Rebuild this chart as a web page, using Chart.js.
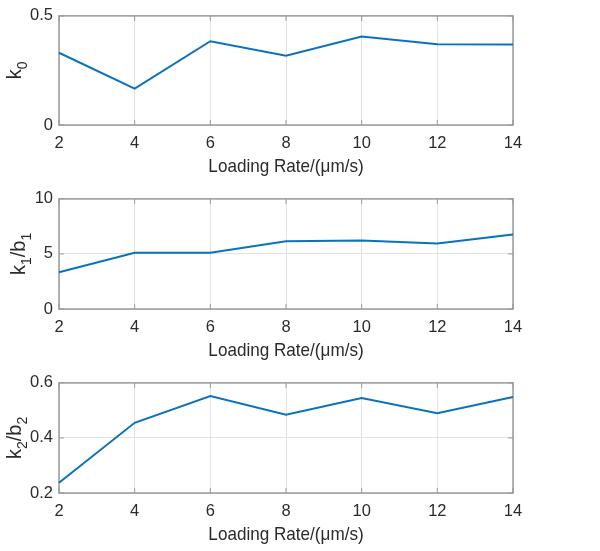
<!DOCTYPE html>
<html>
<head>
<meta charset="utf-8">
<script src="https://cdn.jsdelivr.net/npm/chart.js@4.4.1/dist/chart.umd.min.js"></script>
<style>
    body { margin: 0; background: #fff; }
    #wrap { position: relative; width: 600px; height: 551px; }
    canvas { position: absolute; left: 0; }
</style>
</head>
<body>
<div id="wrap">
    <canvas id="chart-k0" width="600" height="183" style="top:0"></canvas>
    <canvas id="chart-k1" width="600" height="184" style="top:183px"></canvas>
    <canvas id="chart-k2" width="600" height="184" style="top:367px"></canvas>
</div>
<script>
// Data
const loadingRate = [2, 4, 6, 8, 10, 12, 14];
const k0 = [0.331, 0.167, 0.384, 0.318, 0.405, 0.370, 0.369];
const k1b1 = [3.34, 5.10, 5.10, 6.16, 6.22, 5.95, 6.77];
const k2b2 = [0.237, 0.455, 0.552, 0.484, 0.545, 0.490, 0.549];

// Tick labels
const xTicks = [2, 4, 6, 8, 10, 12, 14];
const k0Ticks = [0, 0.5];
const k1Ticks = [0, 5, 10];
const k2Ticks = [0.2, 0.4, 0.6];

// Axis titles ([text, isSubscript])
const xTitle = 'Loading Rate/(μm/s)';
const k0Label = [['k', false], ['0', true]];
const k1Label = [['k', false], ['1', true], ['/b', false], ['1', true]];
const k2Label = [['k', false], ['2', true], ['/b', false], ['2', true]];

const FONT = "'Liberation Sans', Arial, Helvetica, sans-serif";
const textColor = '#2b2b2b';
const gridColor = '#e2e2e2';
const frameColor = '#9a9a9a';
const lineColor = '#0a72bd';

Chart.defaults.font.family = FONT;

// box around the plot area plus the short inward tick marks
const framePlugin = {
    id: 'frame',
    beforeDatasetsDraw(chart) {
        const { ctx, chartArea: a, scales: { x, y } } = chart;
        ctx.save();
        ctx.strokeStyle = frameColor;
        ctx.lineWidth = 1;
        ctx.beginPath();
        x.ticks.forEach(t => {
            const px = x.getPixelForValue(t.value);
            ctx.moveTo(px, a.bottom); ctx.lineTo(px, a.bottom - 5);
            ctx.moveTo(px, a.top); ctx.lineTo(px, a.top + 5);
        });
        y.ticks.forEach(t => {
            const py = y.getPixelForValue(t.value);
            ctx.moveTo(a.left, py); ctx.lineTo(a.left + 5, py);
            ctx.moveTo(a.right, py); ctx.lineTo(a.right - 5, py);
        });
        ctx.stroke();
        ctx.lineWidth = 1.5;
        ctx.strokeRect(a.left, a.top, a.right - a.left, a.bottom - a.top);
        ctx.restore();
    }
};

// axis titles: x title slightly narrowed, y title rotated with subscripts
const axisLabelPlugin = {
    id: 'axisLabel',
    afterDraw(chart, args, opts) {
        const { ctx, chartArea: a, scales: { y } } = chart;
        ctx.save();
        ctx.fillStyle = textColor;

        // x title
        ctx.save();
        ctx.font = `19px ${FONT}`;
        ctx.textAlign = 'center';
        ctx.textBaseline = 'alphabetic';
        ctx.translate((a.left + a.right) / 2, a.bottom + 47);
        ctx.scale(0.9, 1);
        ctx.fillText(xTitle, 0, 0);
        ctx.restore();

        // y title
        ctx.font = `16px ${FONT}`;
        const widest = Math.max(...y.ticks.map(t => ctx.measureText(String(t.label)).width));
        const baseX = a.left - 6 - widest - 10;
        const midY = (a.top + a.bottom) / 2;

        const fonts = opts.parts.map(p => p[1] ? `14px ${FONT}` : `20px ${FONT}`);
        const widths = opts.parts.map((p, i) => { ctx.font = fonts[i]; return ctx.measureText(p[0]).width; });
        const total = widths.reduce((s, w) => s + w, 0);

        ctx.translate(baseX, midY);
        ctx.rotate(-Math.PI / 2);
        ctx.textBaseline = 'alphabetic';
        ctx.textAlign = 'left';
        let u = -total / 2;
        opts.parts.forEach((p, i) => {
            ctx.font = fonts[i];
            ctx.fillText(p[0], u, p[1] ? 6 : 0);
            u += widths[i];
        });
        ctx.restore();
    }
};

const makeChart = (id, values, yTicks, labelParts, padTop) => {
    const ctx = document.getElementById(id).getContext('2d');
    return new Chart(ctx, {
        type: 'line',
        data: {
            labels: loadingRate,
            datasets: [{
                data: loadingRate.map((x, i) => ({ x: x, y: values[i] })),
                borderColor: lineColor,
                borderWidth: 2,
                pointRadius: 0,
                tension: 0,
                fill: false,
                clip: 4,
            }]
        },
        options: {
            responsive: false,
            animation: false,
            devicePixelRatio: 1,
            layout: { padding: { top: padTop, right: 87, bottom: 0, left: 0 } },
            plugins: {
                legend: { display: false },
                tooltip: { enabled: false },
                axisLabel: { parts: labelParts },
            },
            scales: {
                x: {
                    type: 'linear',
                    min: xTicks[0],
                    max: xTicks[xTicks.length - 1],
                    afterBuildTicks: scale => { scale.ticks = xTicks.map(v => ({ value: v })); },
                    afterFit: scale => { scale.height = 58; },
                    grid: { color: gridColor, drawTicks: false },
                    border: { display: false },
                    ticks: { padding: 9, color: textColor, font: { size: 16.5 }, autoSkip: false, maxRotation: 0, callback: v => String(v) },
                },
                y: {
                    type: 'linear',
                    min: yTicks[0],
                    max: yTicks[yTicks.length - 1],
                    afterBuildTicks: scale => { scale.ticks = yTicks.map(v => ({ value: v })); },
                    afterFit: scale => { scale.width = 59; },
                    grid: { color: gridColor, drawTicks: false },
                    border: { display: false },
                    ticks: { padding: 6, color: textColor, font: { size: 16.5 }, callback: v => String(v) },
                }
            }
        },
        plugins: [framePlugin, axisLabelPlugin]
    });
};

makeChart('chart-k0', k0, k0Ticks, k0Label, 10);
makeChart('chart-k1', k1b1, k1Ticks, k1Label, 12);
makeChart('chart-k2', k2b2, k2Ticks, k2Label, 10);
</script>
</body>
</html>
